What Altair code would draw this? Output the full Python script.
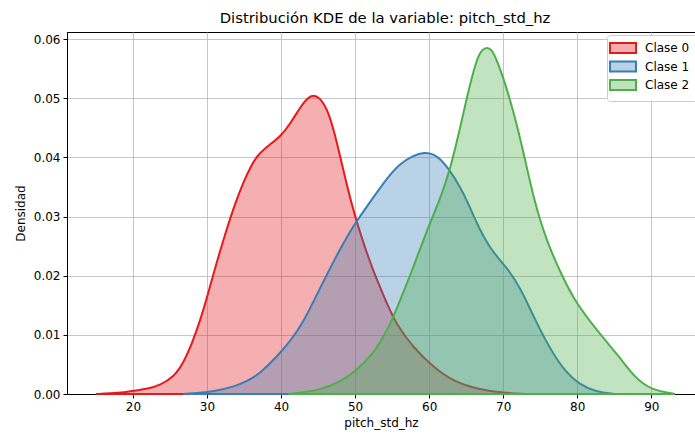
import altair as alt
import pandas as pd

# ---- data ----
labels = ["Clase 0", "Clase 1", "Clase 2"]
colors = ["#e41a1c", "#377eb8", "#4daf4a"]

clase0_x = [15.0, 17.0, 19.0, 20.0, 22.0, 23.7, 25.5, 26.8, 28.0, 29.1, 30.0, 31.3, 32.5, 33.6,
            34.9, 36.0, 36.9, 38.5, 39.9, 41.3, 42.6, 43.6, 44.4, 45.3, 46.2, 47.1, 48.0, 49.0, 50.0,
            51.2, 52.5, 53.4, 54.3, 55.6, 57.9, 60.6, 63.3, 66.9, 70.0, 73.0]
clase0_y = [0.0000, 0.0001, 0.0003, 0.0005, 0.0009, 0.0015, 0.0029, 0.0052, 0.0086, 0.0125, 0.0163,
            0.0222, 0.0272, 0.0315, 0.0358, 0.0387, 0.0405, 0.0422, 0.0435, 0.0458, 0.0485, 0.0501, 0.0506,
            0.0500, 0.0483, 0.0448, 0.0401, 0.0347, 0.0300, 0.0252, 0.0207, 0.0180, 0.0153, 0.0117,
            0.0078, 0.0045, 0.0021, 0.0007, 0.0002, 0.0000]

clase1_x = [26.8, 29.1, 31.0, 33.6, 35.5, 37.2, 39.9, 42.6, 45.3, 48.0, 49.3, 50.2, 52.5, 54.3,
            56.1, 57.8, 59.4, 60.5, 61.5, 62.8, 64.2, 65.3, 66.3, 68.2, 70.5, 72.3, 74.1, 75.9,
            78.1, 80.4, 82.5, 85.0]
clase1_y = [0.0000, 0.0002, 0.0005, 0.0012, 0.0022, 0.0035, 0.0069, 0.0110, 0.0180, 0.0246, 0.0274,
            0.0292, 0.0333, 0.0365, 0.0390, 0.0403, 0.0409, 0.0406, 0.0398, 0.0378, 0.0350, 0.0322,
            0.0292, 0.0245, 0.0214, 0.0180, 0.0131, 0.0086, 0.0041, 0.0015, 0.0004, 0.0000]

clase2_x = [41.0, 43.0, 45.3, 48.0, 49.8, 52.5, 53.4, 54.7, 56.1, 57.9, 59.7, 61.5, 62.8, 64.0,
            65.1, 66.4, 67.2, 67.8, 68.4, 69.1, 70.9, 72.7, 74.1, 75.9, 77.9, 79.7, 82.8, 85.5, 87.8,
            90.0, 93.2]
clase2_y = [0.0000, 0.0003, 0.0007, 0.0021, 0.0035, 0.0069, 0.0088, 0.0116, 0.0159, 0.0215, 0.0277,
            0.0330, 0.0378, 0.0440, 0.0502, 0.0567, 0.0583, 0.0586, 0.0583, 0.0567, 0.0502, 0.0412,
            0.0330, 0.0257, 0.0201, 0.0156, 0.0105, 0.0066, 0.0027, 0.0007, 0.0000]

x_ticks = [20, 30, 40, 50, 60, 70, 80, 90]
y_ticks = [0.00, 0.01, 0.02, 0.03, 0.04, 0.05, 0.06]

rows = []
for lab, xs, ys in zip(labels, [clase0_x, clase1_x, clase2_x], [clase0_y, clase1_y, clase2_y]):
    for xv, yv in zip(xs, ys):
        rows.append({"clase": lab, "clase_borde": lab, "x": xv, "y": yv})
df = pd.DataFrame(rows)

FONT = "DejaVu Sans"

common_legend = dict(
    title=None, orient="none", legendX=540, legendY=3,
    symbolType="M-2.6,-1H2.6V1H-2.6Z", symbolSize=100, symbolStrokeWidth=2,
    labelFont=FONT, labelFontSize=12,
    padding=7, cornerRadius=3,
    rowPadding=0.5, symbolOffset=3, labelOffset=16,
)
fill_legend = alt.Legend(
    symbolOpacity=0.35, symbolStrokeColor="transparent", labelColor="black",
    strokeColor="#cccccc", fillColor="white", **common_legend,
)
stroke_legend = alt.Legend(
    symbolFillColor="transparent", labelColor="transparent",
    **common_legend,
)


def layer(lab):
    return alt.Chart(df).transform_filter(alt.datum.clase == lab).mark_area(
        interpolate="basis", fillOpacity=0.35, strokeOpacity=1, strokeWidth=2
    ).encode(
        x=alt.X("x:Q", scale=alt.Scale(domain=[11.1, 95.9], nice=False, zero=False),
                axis=alt.Axis(values=x_ticks, title="pitch_std_hz", format="d")),
        y=alt.Y("y:Q", stack=None, scale=alt.Scale(domain=[0, 0.0612], nice=False),
                axis=alt.Axis(values=y_ticks, title="Densidad", format=".2f")),
        fill=alt.Fill("clase:N", scale=alt.Scale(domain=labels, range=colors), legend=fill_legend),
        stroke=alt.Stroke("clase_borde:N", scale=alt.Scale(range=colors), legend=stroke_legend),
    )


chart = alt.layer(*[layer(l) for l in labels]).properties(
    width=628, height=362,
    autosize=alt.AutoSizeParams(type="none"),
    padding={"left": 67, "top": 32, "right": 0, "bottom": 40},
    title=alt.TitleParams(
        "Distribución KDE de la variable: pitch_std_hz",
        font=FONT, fontSize=14.8, fontWeight="normal", color="black",
        anchor="middle", dx=4, dy=14, offset=8, baseline="alphabetic",
    ),
).configure_view(
    stroke="black", strokeWidth=1
).configure_axis(
    grid=True, gridColor="#b8b8b8", gridWidth=0.8,
    domainColor="black", domainWidth=1, tickColor="black", tickSize=4, tickWidth=1,
    labelFont=FONT, labelFontSize=12, labelColor="black", labelPadding=3,
    titleFont=FONT, titleFontSize=12, titleFontWeight="normal", titleColor="black",
).configure_axisX(
    titlePadding=5
).configure_axisY(
    titlePadding=6
)

chart.save("out.html", embed_options={"renderer": "svg", "actions": False})
